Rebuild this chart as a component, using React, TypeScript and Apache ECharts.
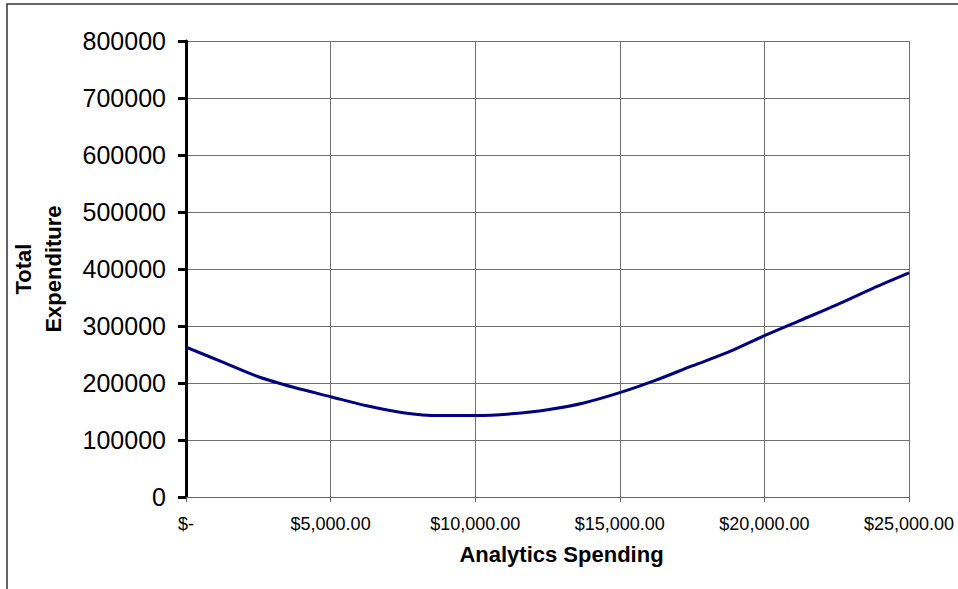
import React, { useEffect, useRef } from "react";
import * as echarts from "echarts";

const spending = [0, 1250, 2500, 3750, 5000, 6250, 7500, 8750, 10000, 11250, 12500, 13750, 15000, 16250, 17500, 18750, 20000, 21250, 22500, 23750, 25000];
const totalExpenditure = [263000, 237000, 211000, 192000, 176000, 160000, 148000, 143000, 143000, 146000, 153000, 165000, 183000, 205000, 230000, 254000, 283000, 310000, 337000, 366000, 393000];
const xTickValues = [0, 5000, 10000, 15000, 20000, 25000];
const xTickLabels = ["$-", "$5,000.00", "$10,000.00", "$15,000.00", "$20,000.00", "$25,000.00"];
const yTickLabels = ["0", "100000", "200000", "300000", "400000", "500000", "600000", "700000", "800000"];

const FONT = "'Liberation Sans', Arial, sans-serif";

export default function App() {
  const ref = useRef<HTMLDivElement>(null);
  useEffect(() => {
    if (!ref.current) return;
    const chart = echarts.init(ref.current, undefined, { renderer: "svg" });
    chart.setOption({
      animation: false,
      backgroundColor: "#ffffff",
      grid: { left: 185, top: 41, right: 49, bottom: 92, containLabel: false },
      graphic: [
        {
          type: "rect",
          shape: { x: 7, y: 4, width: 1200, height: 1200 },
          style: { fill: "none", stroke: "#333333", lineWidth: 1.5 },
          silent: true,
        },
      ],
      xAxis: {
        type: "value",
        min: 0,
        max: 25000,
        interval: 5000,
        name: "Analytics Spending",
        nameLocation: "middle",
        nameGap: 46,
        nameTextStyle: { fontFamily: FONT, fontSize: 22, fontWeight: "bold", color: "#000", padding: [0, 0, 0, 28] },
        axisLine: { show: true, lineStyle: { color: "#666666", width: 1 } },
        axisTick: { show: true, inside: false, length: 5, lineStyle: { color: "#666666", width: 1 } },
        splitLine: { show: true, lineStyle: { color: "#707070", width: 1 } },
        axisLabel: {
          margin: 18,
          fontFamily: FONT,
          fontSize: 18,
          color: "#000",
          showMaxLabel: true,
          showMinLabel: true,
          formatter: (v: number) => {
            const i = xTickValues.indexOf(v);
            return i >= 0 ? xTickLabels[i] : "";
          },
        },
      },
      yAxis: {
        type: "value",
        min: 0,
        max: 800000,
        interval: 100000,
        name: "Total\nExpenditure",
        nameLocation: "middle",
        nameGap: 118,
        nameRotate: 90,
        nameTextStyle: { fontFamily: FONT, fontSize: 22, fontWeight: "bold", color: "#000", lineHeight: 30 },
        axisLine: { show: true, lineStyle: { color: "#000000", width: 3 } },
        axisTick: { show: true, inside: false, length: 8, lineStyle: { color: "#000000", width: 3 } },
        splitLine: { show: true, lineStyle: { color: "#707070", width: 1 } },
        axisLabel: {
          margin: 20,
          fontFamily: FONT,
          fontSize: 25,
          color: "#000",
          formatter: (v: number) => yTickLabels[Math.round(v / 100000)] ?? String(v),
        },
      },
      series: [
        {
          type: "line",
          data: spending.map((x, i) => [x, totalExpenditure[i]]),
          showSymbol: false,
          smooth: 0.3,
          lineStyle: { color: "#000080", width: 3 },
          z: 5,
        },
      ],
    });
    return () => chart.dispose();
  }, []);
  return (
    <div
      ref={ref}
      style={{ position: "absolute", left: 0, top: 0, width: 958, height: 589, background: "#fff" }}
    />
  );
}
